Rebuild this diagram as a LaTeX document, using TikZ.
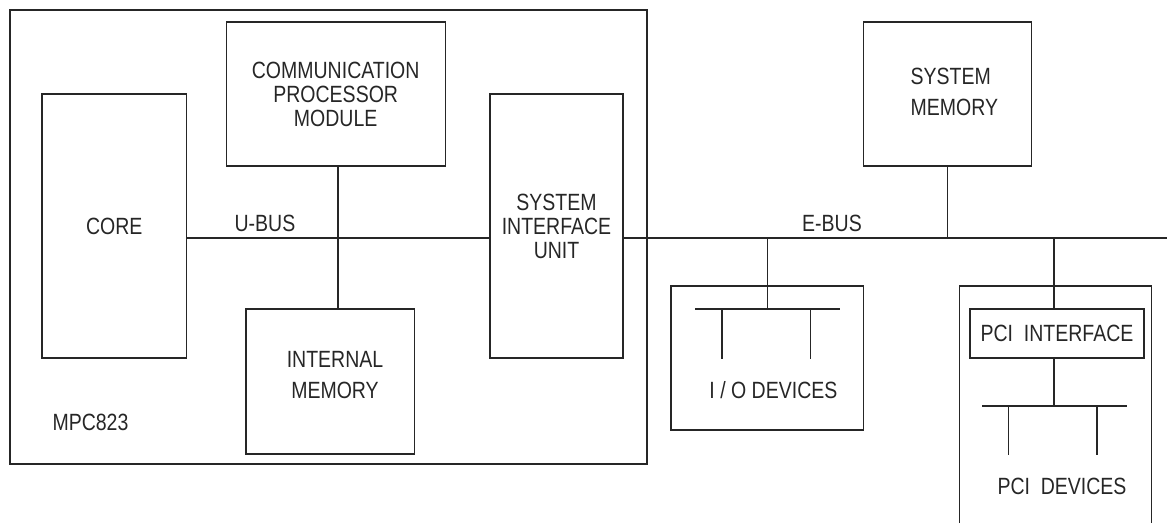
\documentclass[tikz,border=0pt]{standalone}
\usepackage{fontspec}
\setmainfont{Liberation Sans}[FakeStretch=0.83]
\begin{document}
\begin{tikzpicture}[x=1pt,y=-1pt,line width=1.3pt,color=black!85,
        font=\fontsize{23.5}{24}\selectfont,
        box/.style={draw,inner sep=0pt,align=center},
        txt/.style={inner sep=0pt,align=center}]
        \useasboundingbox (0,0) rectangle (1167,523);
        % MPC823 chip
        \node[box,minimum width=637pt,minimum height=454pt] (mpc) at (328.5,237) {};
        \node[txt] (mpclbl) at (90.5,422) {MPC823};
        \node[box,minimum width=144.5pt,minimum height=264pt] (core) at (114.3,226) {CORE};
        \node[box,minimum width=219pt,minimum height=144pt] (cpm) at (335.7,94) {COMMUNICATION\\PROCESSOR\\MODULE};
        \node[box,minimum width=133pt,minimum height=264pt] (siu) at (556.5,226) {SYSTEM\\INTERFACE\\UNIT};
        \node[box,minimum width=168.5pt,minimum height=145pt] (imem) at (330.3,381.5) {};
        \node[txt] (imemtxt) at (335,375) {INTERNAL\\[7pt]MEMORY};
        \coordinate (ucross) at (338,238);
        \node[txt] (ubuslbl) at (265,223) {U-BUS};
        \draw (core.east |- ucross) -- (siu.west |- ucross);
        \draw (cpm.south -| ucross) -- (imem.north -| ucross);

        % E-bus side
        \coordinate (ebusend) at (1167,238);
        \node[txt] (ebuslbl) at (832,223) {E-BUS};
        \draw (siu.east |- ebusend) -- (ebusend);
        \node[box,minimum width=168pt,minimum height=144pt] (sysmem) at (947.5,94) {};
        \node[txt,align=left,anchor=west] (sysmemtxt) at (910,91.5) {SYSTEM\\[7pt]MEMORY};
        \draw (sysmem.south) -- (sysmem.south |- ebusend);

        \node[box,minimum width=192.5pt,minimum height=144pt] (io) at (767.2,358) {};
        \node[txt] (iotxt) at (773.4,390) {I / O DEVICES};
        \coordinate (iobus) at (767.7,309);
        \draw (iobus |- ebusend) -- (iobus);
        \draw ([xshift=-72.7pt]iobus) -- ([xshift=72.3pt]iobus);
        \foreach \dx in {-45.7,42.7}
            \draw ([xshift=\dx pt]iobus) -- ++(0,50);

        % PCI card, open at the bottom
        \draw (959.7,523) -- (959.7,286) -- (1151.6,286) -- (1151.6,523);
        \node[box,minimum width=174pt,minimum height=49pt] (pciif) at (1057,333.5) {PCI~~INTERFACE};
        \node[txt] (pcitxt) at (1062,486) {PCI~~DEVICES};
        \coordinate (pcibus) at (1054,406);
        \draw (pcibus |- ebusend) -- (pcibus |- pciif.north);
        \draw (pcibus |- pciif.south) -- (pcibus);
        \draw ([xshift=-72pt]pcibus) -- ([xshift=72.7pt]pcibus);
        \foreach \dx in {-45.3,43}
            \draw ([xshift=\dx pt]pcibus) -- ++(0,49);
    \end{tikzpicture}
\end{document}
